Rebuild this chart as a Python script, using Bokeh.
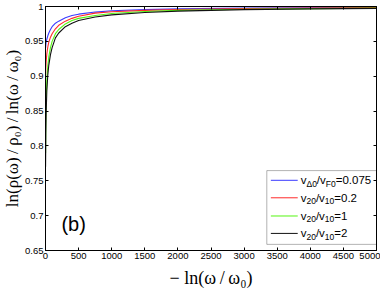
from bokeh.plotting import figure
from bokeh.models import LinearAxis, FixedTicker, Range1d, Label, BoxAnnotation, CustomJSTickFormatter
from bokeh.core.properties import value
from bokeh.embed import file_html
from bokeh.resources import INLINE

# ---------------- data ----------------
x_vals = [1, 5, 10, 20, 35, 50, 75, 100, 150, 200, 300, 400, 500, 750, 1000, 1500, 2000, 3000, 4000, 5000]
blue_vals = [0.940, 0.945, 0.949, 0.953, 0.958, 0.962, 0.967, 0.971, 0.976, 0.979, 0.984, 0.987, 0.989, 0.992, 0.9938, 0.9955, 0.9966, 0.9977, 0.9983, 0.9987]
red_vals = [0.900, 0.912, 0.921, 0.932, 0.942, 0.949, 0.956, 0.961, 0.968, 0.973, 0.979, 0.983, 0.986, 0.9905, 0.9925, 0.9945, 0.9958, 0.9972, 0.9979, 0.9984]
green_vals = [0.790, 0.840, 0.866, 0.894, 0.915, 0.928, 0.941, 0.950, 0.961, 0.967, 0.975, 0.980, 0.983, 0.987, 0.990, 0.9928, 0.9944, 0.9961, 0.997, 0.9976]
black_vals = [0.770, 0.818, 0.847, 0.879, 0.902, 0.916, 0.931, 0.941, 0.955, 0.962, 0.971, 0.976, 0.980, 0.985, 0.988, 0.9915, 0.9934, 0.9955, 0.9966, 0.9973]
series = [blue_vals, red_vals, green_vals, black_vals]
colors = ["#3a3aff", "#ff2a2a", "#55f511", "#111111"]

legend_parts = [
    [("v", 0), ("\u03940", 1), ("/v", 0), ("F0", 1), ("=0.075", 0)],
    [("v", 0), ("20", 1), ("/v", 0), ("10", 1), ("=0.2", 0)],
    [("v", 0), ("20", 1), ("/v", 0), ("10", 1), ("=1", 0)],
    [("v", 0), ("20", 1), ("/v", 0), ("10", 1), ("=2", 0)],
]

x_ticks = [0, 500, 1000, 1500, 2000, 2500, 3000, 3500, 4000, 4500, 5000]
y_ticks = [0.65, 0.7, 0.75, 0.8, 0.85, 0.9, 0.95, 1.0]

# ---------------- figure ----------------
p = figure(width=380, height=290, output_backend="svg", toolbar_location=None,
           x_range=Range1d(0, 5000), y_range=Range1d(0.65, 1.0),
           min_border_left=0, min_border_right=4, min_border_top=6, min_border_bottom=35)
p.grid.visible = False
p.outline_line_color = "black"
p.background_fill_color = "white"
p.border_fill_color = "white"

for ax in (p.xaxis[0], p.yaxis[0]):
    ax.major_tick_in = 3
    ax.major_tick_out = 0
    ax.minor_tick_in = 0
    ax.minor_tick_out = 0
    ax.axis_line_color = "black"
    ax.major_label_text_font = "Liberation Sans"
    ax.major_label_text_font_size = "9.5px"
    ax.major_label_text_color = "black"
    ax.axis_label_text_font = "Liberation Serif"
    ax.axis_label_text_font_style = "normal"
    ax.axis_label_text_font_size = "17px"
    ax.axis_label_text_color = "black"

p.xaxis[0].ticker = FixedTicker(ticks=x_ticks)
p.yaxis[0].ticker = FixedTicker(ticks=y_ticks)
p.yaxis[0].formatter = CustomJSTickFormatter(code="return String(tick);")
p.xaxis[0].axis_label = "\u2212 ln(\u03c9\u2009/\u2009\u03c9\u2080)"
p.xaxis[0].axis_label_text_font_size = "18px"
p.yaxis[0].axis_label = "ln(\u03c1(\u03c9)\u2009/\u2009\u03c1\u2080)\u2009/\u2009ln(\u03c9\u2009/\u2009\u03c9\u2080)"
p.xaxis[0].major_label_standoff = 2
p.xaxis[0].axis_label_standoff = 6
p.yaxis[0].major_label_standoff = 2
p.yaxis[0].axis_label_standoff = 0

blank = CustomJSTickFormatter(code="return '';")
top_ax = LinearAxis(ticker=FixedTicker(ticks=x_ticks), formatter=blank,
                    major_tick_in=3, major_tick_out=0, minor_tick_in=0, minor_tick_out=0,
                    major_label_standoff=0, axis_line_color="black")
right_ax = LinearAxis(ticker=FixedTicker(ticks=y_ticks), formatter=CustomJSTickFormatter(code="return '';"),
                      major_tick_in=3, major_tick_out=0, minor_tick_in=0, minor_tick_out=0,
                      major_label_standoff=0, axis_line_color="black")
p.add_layout(top_ax, "above")
p.add_layout(right_ax, "right")

for vals, c in zip(series, colors):
    p.line(x_vals, vals, line_color=c, line_width=1.1)

# (b) label
p.add_layout(Label(x=240, y=0.688, text="(b)", text_font="Liberation Sans",
                   text_font_size="20px", text_baseline="middle", text_color="black"))

# ---------------- legend (manual, for subscripts) ----------------
box_l, box_r, box_b, box_t = 3343, 5000, 0.6588, 0.7646
p.add_layout(BoxAnnotation(left=box_l, right=box_r, bottom=box_b, top=box_t,
                           fill_color="white", fill_alpha=1.0, line_color="black",
                           line_width=1, level="underlay"))
row_y = [0.7507, 0.7256, 0.6995, 0.6745]
seg_x0, seg_x1, txt_x = 3404, 3810, 3855
p.segment(x0=[seg_x0] * 4, x1=[seg_x1] * 4, y0=row_y, y1=row_y, line_color=colors, line_width=1)

em = {"v": 0.5, "\u0394": 0.668, "/": 0.278, "F": 0.611, "=": 0.584, ".": 0.278}
main_fs, sub_fs = 11.5, 8.5
mx, my, mt, mo = [], [], [], []
sx, sy, st, so = [], [], [], []
for parts, yv in zip(legend_parts, row_y):
    off = 0.0
    for txt, is_sub in parts:
        fs = sub_fs if is_sub else main_fs
        w = sum(em.get(ch, 0.556) for ch in txt) * fs
        if is_sub:
            sx.append(txt_x); sy.append(yv); st.append(txt); so.append(off)
        else:
            mx.append(txt_x); my.append(yv); mt.append(txt); mo.append(off)
        off += w

p.text(x=mx, y=my, text=mt, x_offset=mo, y_offset=0, text_font=value("Liberation Sans"),
       text_font_size="11.5px", text_baseline="middle", text_color="black")
p.text(x=sx, y=sy, text=st, x_offset=so, y_offset=3.5, text_font=value("Liberation Sans"),
       text_font_size="8.5px", text_baseline="middle", text_color="black")

open("out.html", "w").write(file_html(p, INLINE))
